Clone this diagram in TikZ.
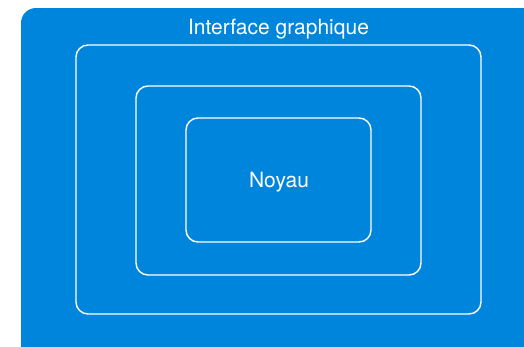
\documentclass[tikz,border=0pt]{standalone}
\usepackage{fontspec}
\setmainfont{TeX Gyre Heros}
\usepackage{tikz}
\usetikzlibrary{shapes}
\definecolor{layerblue}{RGB}{0,133,220}
\tikzset{layer/.style={shape=rectangle,draw=white,line width=1.4pt,rounded corners=12pt,inner sep=0pt}}
\tikzset{layerlabel/.style={text=white,font=\fontsize{21}{24}\selectfont,anchor=base,inner sep=0pt}}

\begin{document}
\begin{tikzpicture}[x=1pt,y=-1pt]
	\useasboundingbox (0,0) rectangle (524,346);
	\clip (0,0) rectangle (524,346);
	\fill[layerblue,rounded corners=15pt] (21,8) rectangle (560,360);
	%
	\node[layer,minimum width=405pt,minimum height=269pt] (outer) at (278.5,179.5) {};
	\node[layer,minimum width=285pt,minimum height=189pt] (middle) at (278.5,180.5) {};
	\node[layer,minimum width=185pt,minimum height=124pt] (core) at (278.5,180) {};
	%
	\node[layerlabel] (gui) at (278.5,34.5) {Interface graphique};
	\node[layerlabel] (noyau) at (279,187) {Noyau};
\end{tikzpicture}
\end{document}
